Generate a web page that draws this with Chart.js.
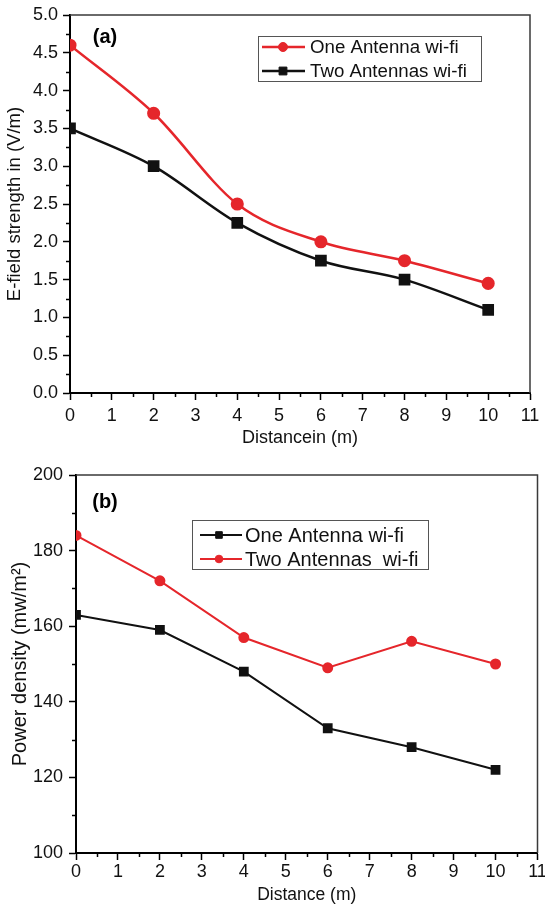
<!DOCTYPE html>
<html><head><meta charset="utf-8">
<script src="https://cdn.jsdelivr.net/npm/chart.js@4.4.0/dist/chart.umd.min.js"></script>
<style>
html,body{margin:0;padding:0;background:#fff;}
#wrapA{position:absolute;left:0;top:0;width:545px;height:453px;}
#wrapB{position:absolute;left:0;top:453px;width:545px;height:454px;}
</style></head><body>
<div id="wrapA"><canvas id="cA" width="545" height="453"></canvas></div>
<div id="wrapB"><canvas id="cB" width="545" height="454"></canvas></div>
<script>
// ---- data (a) ----
const distancesA = [0, 2, 4, 6, 8, 10];
const eFieldOne = [4.6, 3.7, 2.5, 2.0, 1.75, 1.45];
const eFieldTwo = [3.5, 3.0, 2.25, 1.75, 1.5, 1.1];
const labelsA = ['One Antenna wi-fi', 'Two Antennas wi-fi'];
// ---- data (b) ----
const distancesB = [0, 2, 4, 6, 8, 10];
const powerOne = [163, 159, 148, 133, 128, 122];
const powerTwo = [184, 172, 157, 149, 156, 150];
const labelsB = ['One Antenna wi-fi', 'Two Antennas  wi-fi'];

const FONT = '"Liberation Sans", Arial, sans-serif';
const RED = '#e5262b';
const BLACK = '#111111';

function pts(xs, ys) { return xs.map((x, i) => ({x: x, y: ys[i]})); }

const decor = {
  id: 'decor',
  afterDraw(chart, args, o) {
    const ctx = chart.ctx, a = chart.chartArea, xs = chart.scales.x, ys = chart.scales.y;
    ctx.save();
    ctx.strokeStyle = '#3a3a3a'; ctx.lineWidth = 1.5;
    ctx.beginPath(); ctx.moveTo(a.left, a.top); ctx.lineTo(a.right, a.top); ctx.lineTo(a.right, a.bottom); ctx.stroke();
    ctx.strokeStyle = '#000'; ctx.lineWidth = 1.5;
    ctx.beginPath();
    const nx = Math.round((xs.max - xs.min) / o.minorX);
    for (let i = 0; i <= nx; i++) {
      const v = xs.min + i * o.minorX;
      if (Math.abs(v / o.majorX - Math.round(v / o.majorX)) < 1e-6) continue;
      const px = Math.round(xs.getPixelForValue(v)) + 0.5;
      ctx.moveTo(px, a.bottom); ctx.lineTo(px, a.bottom + o.minorLen);
    }
    const ny = Math.round((ys.max - ys.min) / o.minorY);
    for (let i = 0; i <= ny; i++) {
      const v = ys.min + i * o.minorY;
      if (Math.abs(v / o.majorY - Math.round(v / o.majorY)) < 1e-6) continue;
      const py = Math.round(ys.getPixelForValue(v)) + 0.5;
      ctx.moveTo(a.left, py); ctx.lineTo(a.left - o.minorLen, py);
    }
    ctx.stroke();
    // panel label
    ctx.fillStyle = '#000';
    ctx.font = 'bold 20px ' + FONT; ctx.textAlign = 'center'; ctx.textBaseline = 'middle';
    ctx.fillText(o.label, o.labelX, o.labelY);
    // legend
    const L = o.legend;
    ctx.strokeStyle = '#555'; ctx.lineWidth = 1;
    ctx.strokeRect(L.x + 0.5, L.y + 0.5, L.w, L.h);
    ctx.font = L.fs + 'px ' + FONT; ctx.textAlign = 'left'; ctx.textBaseline = 'middle';
    chart.data.datasets.forEach((ds, i) => {
      const y = L.rows[i];
      ctx.strokeStyle = ds.borderColor; ctx.lineWidth = ds.borderWidth;
      ctx.beginPath(); ctx.moveTo(L.x1, y); ctx.lineTo(L.x2, y); ctx.stroke();
      ctx.fillStyle = ds.pointBackgroundColor; ctx.strokeStyle = ds.pointBorderColor; ctx.lineWidth = 1;
      Chart.helpers.drawPoint(ctx, {pointStyle: ds.pointStyle, radius: ds.pointRadius * 0.85, rotation: 0, borderWidth: 1}, L.mx, y);
      ctx.fillStyle = '#111';
      ctx.fillText(ds.label, L.tx, y + 1);
    });
    ctx.restore();
  }
};

function fixY(w) { return function (s) { s.width = w; s.paddingTop = 0; s.paddingBottom = 0; }; }
function fixX(h) { return function (s) { s.height = h; s.paddingLeft = 0; s.paddingRight = 0; }; }

function baseScales(cfg) {
  return {
    x: {
      type: 'linear', min: 0, max: 11,
      afterFit: fixX(cfg.xh),
      ticks: {stepSize: 1, color: '#111', font: {family: FONT, size: 18}, padding: cfg.xpad, maxRotation: 0, autoSkip: false},
      grid: {drawOnChartArea: false, drawTicks: true, tickLength: 7, tickWidth: 1.5, tickColor: '#000'},
      border: {display: true, color: '#000', width: 2},
      title: {display: true, text: cfg.xTitle, color: '#111', font: {family: FONT, size: cfg.xfs}, padding: {top: 0, bottom: cfg.xtp}}
    },
    y: {
      type: 'linear', min: cfg.ymin, max: cfg.ymax,
      afterFit: fixY(cfg.yw),
      ticks: {stepSize: cfg.ystep, color: '#111', font: {family: FONT, size: 18}, padding: cfg.ypad, callback: cfg.ycb},
      grid: {drawOnChartArea: false, drawTicks: true, tickLength: 7, tickWidth: 1.5, tickColor: '#000'},
      border: {display: true, color: '#000', width: 2},
      title: {display: true, text: cfg.yTitle, color: '#111', font: {family: FONT, size: cfg.yfs}, padding: {top: cfg.ytp, bottom: 0}}
    }
  };
}

function ds(label, data, color, style, r, bw, smooth) {
  return {
    label: label, data: data, borderColor: color, backgroundColor: color,
    pointBackgroundColor: color, pointBorderColor: color, pointStyle: style,
    pointRadius: r, pointHoverRadius: r, borderWidth: bw, clip: 0,
    cubicInterpolationMode: smooth ? 'monotone' : 'default', tension: 0
  };
}

new Chart(document.getElementById('cA'), {
  type: 'line',
  data: {datasets: [
    ds(labelsA[0], pts(distancesA, eFieldOne), RED, 'circle', 5.3, 2.5, true),
    ds(labelsA[1], pts(distancesA, eFieldTwo), BLACK, 'rect', 6.5, 2.5, true)
  ]},
  options: {
    responsive: false, animation: false, devicePixelRatio: 1,
    layout: {padding: {top: 15, right: 15, left: 0, bottom: 0}},
    plugins: {
      legend: {display: false}, tooltip: {enabled: false},
      decor: {minorX: 0.5, majorX: 1, minorY: 0.25, majorY: 0.5, minorLen: 4,
        label: '(a)', labelX: 105, labelY: 37,
        legend: {x: 258, y: 36, w: 223, h: 45, rows: [47, 71], x1: 262, x2: 305, mx: 283, tx: 310, fs: 18.7}}
    },
    scales: baseScales({xh: 60, xpad: 5, xtp: 4, xfs: 18, xTitle: 'Distancein (m)',
      yw: 70, ypad: 5, ytp: 4, yfs: 18.5, yTitle: 'E-field strength in (V/m)',
      ymin: 0, ymax: 5, ystep: 0.5, ycb: v => v.toFixed(1)})
  },
  plugins: [decor]
});

new Chart(document.getElementById('cB'), {
  type: 'line',
  data: {datasets: [
    ds(labelsB[0], pts(distancesB, powerOne), BLACK, 'rect', 5.5, 2, false),
    ds(labelsB[1], pts(distancesB, powerTwo), RED, 'circle', 4.5, 2, false)
  ]},
  options: {
    responsive: false, animation: false, devicePixelRatio: 1,
    layout: {padding: {top: 22, right: 2, left: 0, bottom: 0}},
    plugins: {
      legend: {display: false}, tooltip: {enabled: false},
      decor: {minorX: 0.5, majorX: 1, minorY: 10, majorY: 20, minorLen: 4,
        label: '(b)', labelX: 105, labelY: 49,
        legend: {x: 192, y: 67, w: 236, h: 49, rows: [82, 106], x1: 200, x2: 242, mx: 219, tx: 245, fs: 20}}
    },
    scales: baseScales({xh: 54, xpad: 1, xtp: 1, xfs: 17.5, xTitle: 'Distance (m)',
      yw: 76, ypad: 6, ytp: 8, yfs: 20, yTitle: 'Power density (mw/m²)',
      ymin: 100, ymax: 200, ystep: 20, ycb: v => String(v)})
  },
  plugins: [decor]
});
</script>
</body></html>
